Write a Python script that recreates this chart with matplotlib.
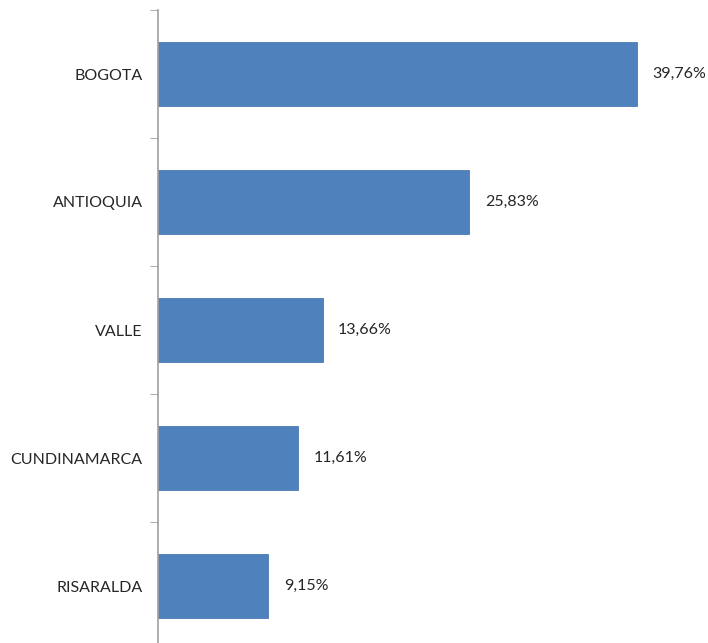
import numpy as np
import matplotlib.pyplot as plt

regions = ["BOGOTA", "ANTIOQUIA", "VALLE", "CUNDINAMARCA", "RISARALDA"]
shares = [39.76, 25.83, 13.66, 11.61, 9.15]
share_labels = ["39,76%", "25,83%", "13,66%", "11,61%", "9,15%"]

plt.rcParams['font.family'] = ['Lato', 'DejaVu Sans']

fig = plt.figure(figsize=(7.08, 6.43), dpi=100)
ax = fig.add_axes([158 / 708, -7 / 643, 542 / 708, 640 / 643])

pos = np.arange(len(regions))
ax.barh(pos, shares, height=0.5, color="#4F81BD", edgecolor="#4A7AB5", linewidth=0.6)
ax.set_ylim(len(regions) - 0.5, -0.5)
ax.set_xlim(0, 45)

for p, v, lab in zip(pos, shares, share_labels):
    ax.text(v + 1.3, p, lab, va="center", ha="left", fontsize=11.5, color="#262626")

ax.set_yticks(pos)
ax.set_yticklabels(regions, fontsize=11.5, color="#262626")
ax.tick_params(axis="y", which="major", length=0, pad=11)
ax.set_yticks(np.arange(-0.5, len(regions), 1), minor=True)
ax.tick_params(axis="y", which="minor", length=6, color="#A0A0A0", direction="out")
ax.set_xticks([])

for s in ["top", "right", "bottom"]:
    ax.spines[s].set_visible(False)
ax.spines["left"].set_color("#A0A0A0")
ax.spines["left"].set_linewidth(1.2)

fig.savefig("out.png", dpi=100)
